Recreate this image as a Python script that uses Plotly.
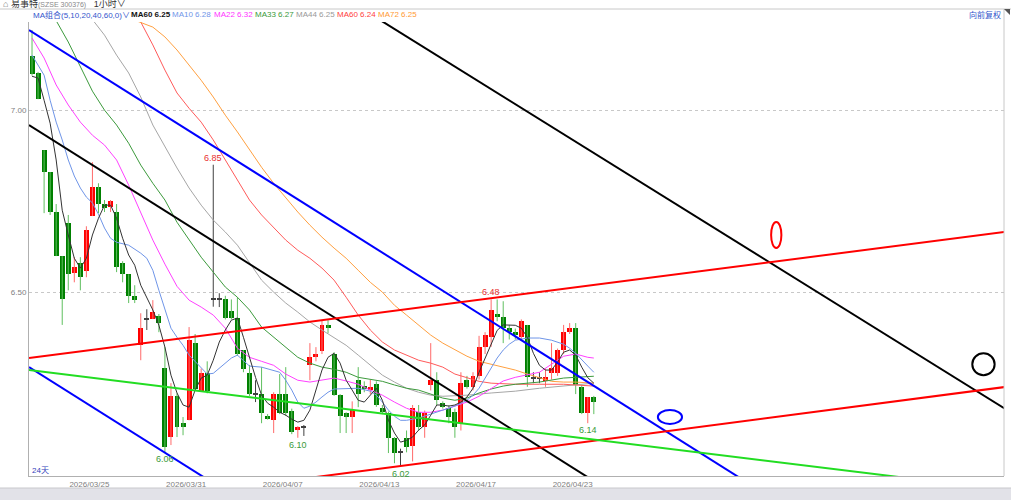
import plotly.graph_objects as go

# ---------------- data ----------------
tick_labels = ["2026/03/25", "2026/03/31", "2026/04/07", "2026/04/13", "2026/04/17", "2026/04/23"]
tick_pos = [9.5, 25.5, 41.5, 57.5, 73.5, 89.5]

opens = [7.149, 7.102, 6.890, 6.830, 6.720, 6.599, 6.690, 6.552, 6.580, 6.558,
         6.709, 6.788, 6.742, 6.734, 6.720, 6.580, 6.549, 6.489, 6.354, 6.426,
         6.426, 6.434, 6.291, 6.102, 6.215, 6.140, 6.148, 6.360, 6.228, 6.277,
         6.481, 6.481, 6.481, 6.448, 6.429, 6.341, 6.277, 6.220, 6.220, 6.159,
         6.148, 6.220, 6.220, 6.173, 6.121, 6.129, 6.300, 6.321, 6.338, 6.409,
         6.330, 6.217, 6.168, 6.157, 6.258, 6.242, 6.231, 6.247, 6.181, 6.168,
         6.099, 6.060, 6.100, 6.077, 6.170, 6.129, 6.245, 6.258, 6.195, 6.181,
         6.170, 6.140, 6.258, 6.239, 6.269, 6.349, 6.376, 6.440, 6.431, 6.401,
         6.390, 6.376, 6.409, 6.264, 6.264, 6.255, 6.277, 6.277, 6.341, 6.390,
         6.401, 6.239, 6.168, 6.212]
highs = [7.220, 7.105, 6.890, 6.830, 6.742, 6.599, 6.712, 6.596, 6.596, 6.681,
         6.857, 6.799, 6.753, 6.753, 6.742, 6.585, 6.549, 6.519, 6.442, 6.453,
         6.478, 6.440, 6.349, 6.250, 6.222, 6.157, 6.404, 6.385, 6.290, 6.310,
         6.850, 6.497, 6.490, 6.480, 6.486, 6.341, 6.300, 6.258, 6.294, 6.165,
         6.225, 6.275, 6.294, 6.180, 6.132, 6.135, 6.360, 6.349, 6.423, 6.423,
         6.335, 6.220, 6.170, 6.200, 6.294, 6.255, 6.260, 6.255, 6.190, 6.172,
         6.102, 6.070, 6.120, 6.190, 6.190, 6.175, 6.360, 6.280, 6.200, 6.190,
         6.180, 6.280, 6.270, 6.280, 6.380, 6.390, 6.480, 6.480, 6.475, 6.410,
         6.400, 6.425, 6.410, 6.280, 6.280, 6.290, 6.360, 6.345, 6.410, 6.415,
         6.415, 6.245, 6.212, 6.215]
lows = [7.095, 7.030, 6.717, 6.712, 6.599, 6.410, 6.505, 6.527, 6.505, 6.541,
        6.709, 6.717, 6.720, 6.720, 6.555, 6.527, 6.470, 6.470, 6.313, 6.396,
        6.426, 6.390, 6.060, 6.080, 6.102, 6.107, 6.148, 6.231, 6.228, 6.222,
        6.460, 6.459, 6.425, 6.425, 6.325, 6.280, 6.215, 6.198, 6.140, 6.150,
        6.113, 6.165, 6.160, 6.110, 6.100, 6.105, 6.258, 6.310, 6.330, 6.387,
        6.215, 6.113, 6.113, 6.113, 6.184, 6.225, 6.220, 6.185, 6.165, 6.058,
        6.030, 6.020, 6.060, 6.035, 6.120, 6.100, 6.230, 6.190, 6.180, 6.140,
        6.100, 6.120, 6.235, 6.230, 6.260, 6.330, 6.350, 6.420, 6.360, 6.370,
        6.370, 6.370, 6.240, 6.250, 6.250, 6.240, 6.260, 6.270, 6.330, 6.385,
        6.220, 6.165, 6.140, 6.165]
closes = [7.099, 7.030, 6.830, 6.720, 6.599, 6.481, 6.549, 6.569, 6.541, 6.670,
          6.788, 6.742, 6.731, 6.750, 6.569, 6.549, 6.489, 6.478, 6.401, 6.426,
          6.445, 6.415, 6.074, 6.215, 6.129, 6.129, 6.368, 6.235, 6.277, 6.228,
          6.481, 6.481, 6.429, 6.429, 6.330, 6.288, 6.220, 6.220, 6.168, 6.151,
          6.220, 6.168, 6.168, 6.115, 6.129, 6.129, 6.322, 6.330, 6.409, 6.401,
          6.217, 6.159, 6.157, 6.176, 6.220, 6.235, 6.239, 6.190, 6.170, 6.099,
          6.058, 6.060, 6.075, 6.181, 6.129, 6.168, 6.258, 6.203, 6.184, 6.157,
          6.129, 6.250, 6.239, 6.269, 6.349, 6.382, 6.450, 6.431, 6.401, 6.390,
          6.382, 6.420, 6.266, 6.264, 6.264, 6.266, 6.291, 6.341, 6.390, 6.401,
          6.245, 6.168, 6.212, 6.198]

ma5 = [7.093, 7.088, 7.027, 6.964, 6.863, 6.725, 6.657, 6.593, 6.566, 6.593,
       6.657, 6.703, 6.739, 6.739, 6.703, 6.648, 6.602, 6.574, 6.519, 6.486,
       6.451, 6.409, 6.349, 6.272, 6.223, 6.190, 6.184, 6.231, 6.264, 6.272,
       6.313, 6.363, 6.396, 6.423, 6.429, 6.376, 6.319, 6.266, 6.217, 6.195,
       6.184, 6.170, 6.162, 6.151, 6.143, 6.148, 6.176, 6.231, 6.286, 6.321,
       6.332, 6.305, 6.258, 6.231, 6.203, 6.198, 6.217, 6.236, 6.203, 6.148,
       6.113, 6.088, 6.093, 6.102, 6.121, 6.135, 6.162, 6.190, 6.190, 6.187,
       6.190, 6.198, 6.212, 6.236, 6.280, 6.320, 6.360, 6.395, 6.410, 6.409,
       6.409, 6.401, 6.376, 6.332, 6.299, 6.286, 6.286, 6.308, 6.335, 6.341,
       6.327, 6.294, 6.265, 6.250]

ma10_x = [0, 2, 3, 4, 5, 6, 7, 8, 9, 10, 11, 12, 13, 14, 16, 18, 19, 20, 21, 22,
          23, 24, 25, 26, 28, 29, 30, 31, 33, 34, 35, 36, 38, 40, 41, 42, 43, 44, 45, 46,
          47, 48, 49, 50, 52, 54, 56, 57, 58, 59, 60, 61, 62, 64, 66, 68, 70, 72, 73, 74,
          75, 76, 77, 78, 79, 80, 82, 84, 86, 88, 89, 90, 91, 92, 93]
ma10_y = [7.151, 7.096, 7.027, 6.967, 6.918, 6.863, 6.819, 6.786, 6.761, 6.745,
          6.714, 6.676, 6.648, 6.637, 6.629, 6.607, 6.593, 6.560, 6.505, 6.451,
          6.401, 6.376, 6.354, 6.327, 6.291, 6.275, 6.277, 6.291, 6.319, 6.327,
          6.313, 6.297, 6.294, 6.286, 6.280, 6.258, 6.231, 6.198, 6.181, 6.187,
          6.198, 6.212, 6.225, 6.234, 6.236, 6.236, 6.228, 6.217, 6.198, 6.176,
          6.159, 6.148, 6.148, 6.154, 6.165, 6.176, 6.187, 6.203, 6.217, 6.236,
          6.264, 6.291, 6.319, 6.341, 6.357, 6.368, 6.374, 6.374, 6.368, 6.357,
          6.346, 6.332, 6.313, 6.297, 6.280]

ma22_x = [0, 2, 4, 6, 8, 10, 12, 14, 16, 18, 20, 22, 24, 26, 28, 30, 32, 34, 36, 38,
          40, 42, 44, 46, 48, 50, 52, 54, 56, 58, 60, 62, 64, 66, 68, 70, 72, 74, 76, 78,
          80, 82, 84, 86, 88, 90, 92, 93]
ma22_y = [7.198, 7.143, 7.069, 7.014, 6.967, 6.931, 6.904, 6.863, 6.794, 6.720,
          6.643, 6.577, 6.516, 6.478, 6.459, 6.437, 6.401, 6.346, 6.321, 6.310,
          6.299, 6.275, 6.258, 6.253, 6.258, 6.264, 6.256, 6.247, 6.231, 6.217,
          6.198, 6.181, 6.170, 6.170, 6.176, 6.187, 6.198, 6.214, 6.234, 6.256,
          6.266, 6.272, 6.280, 6.302, 6.324, 6.330, 6.321, 6.319]

ma33_x = [0, 3, 6, 8, 10, 12, 14, 16, 18, 20, 22, 24, 26, 28, 30, 32, 34, 36, 38, 40,
          42, 44, 46, 48, 50, 52, 54, 56, 58, 60, 62, 64, 66, 68, 70, 72, 74, 76, 78, 80,
          84, 88, 93]
ma33_y = [7.380, 7.275, 7.187, 7.118, 7.052, 7.000, 6.959, 6.909, 6.849, 6.799,
          6.753, 6.692, 6.643, 6.596, 6.555, 6.514, 6.486, 6.451, 6.404, 6.376,
          6.349, 6.321, 6.305, 6.294, 6.288, 6.280, 6.266, 6.261, 6.255, 6.245,
          6.236, 6.231, 6.220, 6.209, 6.203, 6.209, 6.223, 6.234, 6.242, 6.247,
          6.253, 6.264, 6.269]

ma44_x = [5, 9, 12, 14, 16, 18, 20, 22, 24, 26, 28, 30, 32, 34, 36, 38, 40, 42, 44, 46,
          48, 50, 52, 54, 56, 58, 60, 62, 64, 66, 68, 72, 76, 80, 84, 88, 93]
ma44_y = [7.360, 7.270, 7.206, 7.151, 7.102, 7.036, 6.959, 6.898, 6.841, 6.786,
          6.739, 6.698, 6.665, 6.629, 6.582, 6.533, 6.500, 6.470, 6.445, 6.418,
          6.396, 6.376, 6.354, 6.327, 6.299, 6.272, 6.253, 6.236, 6.225, 6.217,
          6.214, 6.217, 6.223, 6.228, 6.236, 6.242, 6.250]

ma60_x = [15, 18, 20, 22, 24, 26, 28, 30, 32, 34, 36, 38, 40, 42, 44, 46, 48, 50, 52, 54,
          56, 58, 60, 62, 64, 66, 68, 70, 72, 74, 76, 80, 84, 88, 93]
ma60_y = [7.300, 7.242, 7.179, 7.110, 7.047, 7.005, 6.967, 6.918, 6.863, 6.808,
          6.753, 6.712, 6.676, 6.643, 6.615, 6.593, 6.566, 6.533, 6.486, 6.437,
          6.396, 6.363, 6.341, 6.327, 6.313, 6.305, 6.294, 6.275, 6.264, 6.255,
          6.250, 6.247, 6.247, 6.247, 6.242]

ma72_x = [14, 17, 20, 22, 24, 26, 28, 30, 32, 34, 36, 38, 40, 42, 44, 46, 48, 50, 52, 54,
          56, 58, 60, 62, 64, 66, 68, 70, 72, 74, 76, 78, 80, 82, 84, 86, 88, 90, 93]
ma72_y = [7.270, 7.247, 7.228, 7.201, 7.165, 7.124, 7.082, 7.036, 6.986, 6.940,
          6.890, 6.843, 6.799, 6.758, 6.720, 6.684, 6.651, 6.621, 6.593, 6.560,
          6.527, 6.500, 6.464, 6.437, 6.409, 6.382, 6.360, 6.341, 6.324, 6.310,
          6.302, 6.294, 6.286, 6.275, 6.264, 6.255, 6.253, 6.253, 6.250]

# drawn trend lines: (x0, p0, x1, p1, colour)
trend_lines = [
    (-0.5, 7.220, 125.0, 5.908, "#0000ff"),
    (-0.5, 6.294, 40.0, 5.871, "#0000ff"),
    (-0.5, 6.959, 100.0, 5.908, "#000000"),
    (50.0, 7.326, 165.0, 6.139, "#000000"),
    (-0.5, 6.319, 165.0, 6.674, "#ff0000"),
    (40.0, 5.977, 165.0, 6.248, "#ff0000"),
    (-0.5, 6.286, 150.0, 5.979, "#22dd22"),
]
# drawn ellipses: (x-centre, price-centre, half-width in bars, half-height in price, colour)
ellipses = [
    (123.2, 6.657, 0.85, 0.036, "#ff0000"),
    (105.6, 6.157, 2.0, 0.019, "#0000ff"),
    (157.5, 6.302, 1.85, 0.030, "#000000"),
]
# price marks: (bar, price, text, is_high)
price_marks = [(30, 6.85, "6.85", True), (76, 6.48, "6.48", True),
               (22, 6.06, "6.06", False), (44, 6.10, "6.10", False),
               (61, 6.02, "6.02", False), (92, 6.14, "6.14", False)]

legend_items = [("MA组合(5,10,20,40,60,0)∨", "#3355cc", 31),
                ("<b>MA60 6.25</b>", "#111111", 129),
                ("MA10 6.28", "#6f95e8", 170),
                ("MA22 6.32", "#ff33ff", 212),
                ("MA33 6.27", "#3a9a3a", 253),
                ("MA44 6.25", "#999999", 294),
                ("MA60 6.24", "#ff4040", 335),
                ("MA72 6.25", "#ff9933", 376)]

# ---------------- figure ----------------
W, H = 1011, 500
ML, MR, MT, MB = 29, 7, 22, 24
PW, PH = W - ML - MR, H - MT - MB

def px_x(p):
    return (p - ML) / PW

def px_y(p):
    return (H - MB - p) / PH

FONT = "Liberation Sans, Noto Sans CJK SC, sans-serif"
fig = go.Figure()

n = len(opens)
idx = list(range(n))
RED, GREEN, DOJI = "#ff0000", "#008000", "#404040"
RED_W, GREEN_W = "#ff6a6a", "#5fbf5f"

cats = {"up": [], "down": [], "doji": []}
for i in idx:
    o, c = opens[i], closes[i]
    if abs(c - o) < 0.002:
        cats["doji"].append(i)
    elif c > o:
        cats["up"].append(i)
    else:
        cats["down"].append(i)

for key, wcol in (("up", RED_W), ("down", GREEN_W), ("doji", DOJI)):
    xs, ys = [], []
    for i in cats[key]:
        xs += [i, i, None]
        ys += [lows[i], highs[i], None]
    fig.add_trace(go.Scatter(x=xs, y=ys, mode="lines", line=dict(color=wcol, width=1),
                             hoverinfo="skip", showlegend=False))

for key, col in (("up", RED), ("down", GREEN), ("doji", DOJI)):
    ii = cats[key]
    base = [min(opens[i], closes[i]) for i in ii]
    hgt = [max(abs(closes[i] - opens[i]), 0.0028) for i in ii]
    fig.add_trace(go.Bar(x=ii, y=hgt, base=base, width=0.82, marker=dict(color=col, line=dict(width=0)),
                         hoverinfo="skip", showlegend=False))

ma_specs = [(ma44_x, ma44_y, "#a6a6a6"), (ma60_x, ma60_y, "#ff5a5a"), (ma72_x, ma72_y, "#ffa040"),
            (ma33_x, ma33_y, "#3c9a3c"), (ma22_x, ma22_y, "#ff40ff"), (ma10_x, ma10_y, "#6f95e8"),
            (idx, ma5, "#333333")]
for xs, ys, col in ma_specs:
    fig.add_trace(go.Scatter(x=xs, y=ys, mode="lines", line=dict(color=col, width=1),
                             hoverinfo="skip", showlegend=False))

for x0, p0, x1, p1, col in trend_lines:
    fig.add_trace(go.Scatter(x=[x0, x1], y=[p0, p1], mode="lines", line=dict(color=col, width=2),
                             hoverinfo="skip", showlegend=False))

shapes = []
for xc, pc, hw, hh, col in ellipses:
    shapes.append(dict(type="circle", xref="x", yref="y", x0=xc - hw, x1=xc + hw,
                       y0=pc - hh, y1=pc + hh, line=dict(color=col, width=2)))
# frame pieces
shapes.append(dict(type="line", xref="paper", yref="paper", x0=px_x(0), x1=px_x(W),
                   y0=px_y(9), y1=px_y(9), line=dict(color="#c8c8c8", width=1)))
shapes.append(dict(type="line", xref="paper", yref="paper", x0=px_x(1004), x1=px_x(1004),
                   y0=px_y(9), y1=px_y(476), line=dict(color="#c8c8c8", width=1)))
shapes.append(dict(type="rect", xref="paper", yref="paper", x0=px_x(0), x1=px_x(W),
                   y0=px_y(500), y1=px_y(488), fillcolor="#e2e2e8", line=dict(width=0)))
shapes.append(dict(type="line", xref="paper", yref="paper", x0=px_x(0), x1=px_x(W),
                   y0=px_y(488), y1=px_y(488), line=dict(color="#c8c8cc", width=1)))
shapes.append(dict(type="path", xref="paper", yref="paper",
                   path=f"M {px_x(1004)} {px_y(9)} L {px_x(1010)} {px_y(9)} L {px_x(1010)} {px_y(15)} Z",
                   fillcolor="#555555", line=dict(width=0)))

annotations = []
for b, p, t, is_high in price_marks:
    annotations.append(dict(x=b, y=p, xref="x", yref="y", text=t, showarrow=False,
                            yanchor="bottom" if is_high else "top",
                            font=dict(family=FONT, size=9, color="#e83030" if is_high else "#3a9a3a")))
for t, col, x in legend_items:
    annotations.append(dict(x=px_x(x), y=px_y(15), xref="paper", yref="paper", text=t,
                            showarrow=False, xanchor="left", yanchor="middle",
                            font=dict(family=FONT, size=8, color=col)))
annotations.append(dict(x=px_x(1), y=px_y(4), xref="paper", yref="paper",
                        text="<span style='color:#666'>⌂</span> 易事特<span style='font-size:7px;color:#888'>(SZSE 300376)</span>   1小时∨",
                        showarrow=False, xanchor="left", yanchor="middle",
                        font=dict(family=FONT, size=9, color="#333333")))
annotations.append(dict(x=px_x(1003), y=px_y(15), xref="paper", yref="paper", text="向前复权",
                        showarrow=False, xanchor="right", yanchor="middle",
                        font=dict(family=FONT, size=8, color="#3355cc")))
annotations.append(dict(x=px_x(30), y=px_y(470), xref="paper", yref="paper", text="24天",
                        showarrow=False, xanchor="left", yanchor="middle",
                        font=dict(family=FONT, size=8, color="#3344bb")))

fig.update_layout(
    width=W, height=H, margin=dict(l=ML, r=MR, t=MT, b=MB),
    paper_bgcolor="white", plot_bgcolor="white", barmode="overlay", bargap=0,
    showlegend=False, shapes=shapes, annotations=annotations,
    xaxis=dict(range=[-0.5, 160.9], tickvals=tick_pos, ticktext=tick_labels, showgrid=False,
               zeroline=False, showline=True, linecolor="#b0b0b0", linewidth=1, ticks="",
               tickfont=dict(family=FONT, size=8, color="#808080")),
    yaxis=dict(range=[5.995, 7.242], tickvals=[6.5, 7.0], ticktext=["6.50", "7.00"],
               showgrid=True, gridcolor="#c8c8c8", griddash="dot", gridwidth=1, zeroline=False,
               showline=True, linecolor="#b0b0b0", linewidth=1, ticks="",
               tickfont=dict(family=FONT, size=8, color="#808080")),
)

fig.write_html("out.html", config={"displayModeBar": False},
               post_script="document.body.style.margin='0px';document.body.style.overflow='hidden';")
